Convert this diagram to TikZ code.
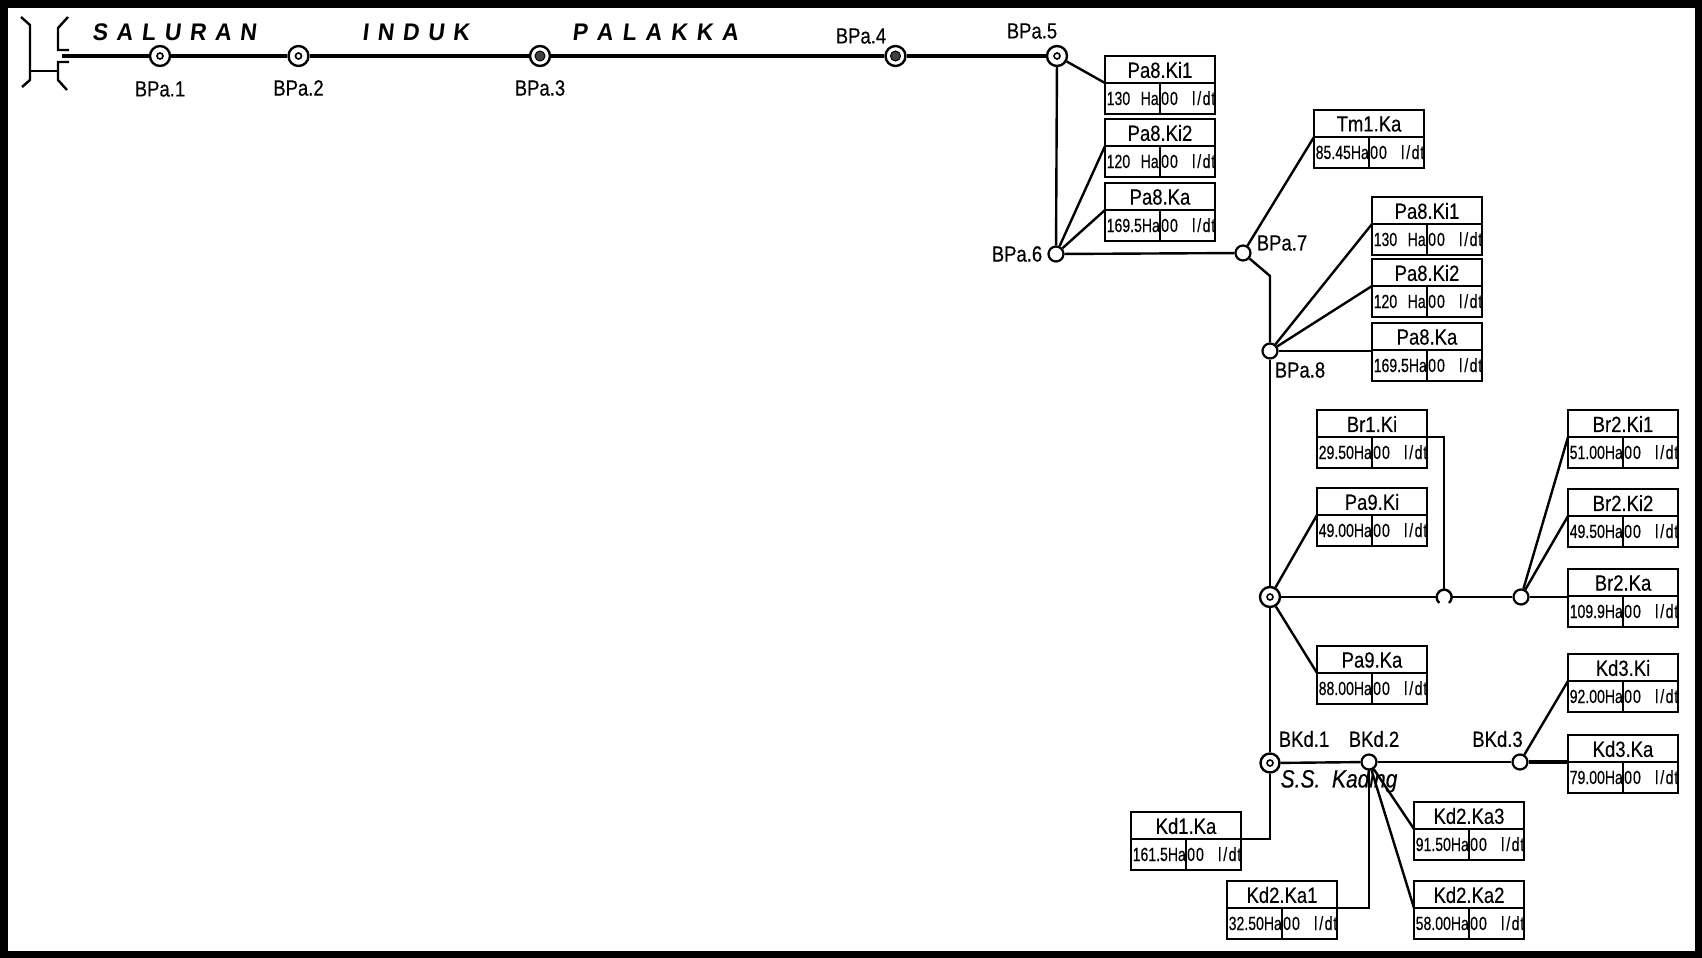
\documentclass[tikz,border=0pt]{standalone}
\usepackage{fontspec}
\setmainfont{Liberation Sans}
\newfontfamily\cadfont[FakeStretch=0.84,FakeBold=0.35]{Liberation Sans}
\newfontfamily\cellfont[FakeStretch=0.74,FakeBold=0.45]{Liberation Sans}
\newfontfamily\capsfont[FakeStretch=0.95,FakeSlant=0.12]{Liberation Sans Bold}
\tikzset{
  boxframe/.style={draw,line width=2.4pt,anchor=north west,minimum width=110pt,minimum height=58pt,inner sep=0pt,outer sep=0pt},
  cellrule/.style={line width=2.4pt},
  boxtitle/.style={inner sep=0pt,font=\cadfont\fontsize{22}{22}\selectfont},
  celltext/.style={inner sep=0pt,font=\cellfont\fontsize{19}{19}\selectfont},
  sitelabel/.style={inner sep=0pt,font=\cadfont\fontsize{22}{22}\selectfont},
  gate/.style={circle,draw,fill=white,line width=2.2pt,minimum size=15pt,inner sep=0pt},
  ringgate/.style={circle,draw,fill=white,line width=2.4pt,minimum size=#1,inner sep=0pt},
  ringgate/.default=20pt,
  hub/.style={circle,draw,fill=white,line width=1.6pt,minimum size=6pt,inner sep=0pt},
  darkhub/.style={circle,draw,fill=black!75,line width=1pt,minimum size=10pt,inner sep=0pt},
  mainline/.style={line width=3.4pt},
  branch/.style={line width=2.4pt},
  banner/.style={inner sep=0pt,font=\capsfont\fontsize{24}{24}\selectfont},
}
\newcommand{\flowbox}[5]{%
  \begin{scope}[shift={(#2,#3)}]
    \node[boxframe] (#1) at (0,0) {};
    \coordinate (#1-l) at (0,27);
    \coordinate (#1-r) at (110,27);
    \coordinate (#1-m) at (55,27);
    \coordinate (#1-b) at (55,58);
    \draw[cellrule] (#1-l) -- (#1-r) (#1-m) -- (#1-b);
    \node[boxtitle] at (55,14) {#4};
    \node[celltext,anchor=base west] at (1.5,49) {\hbox to 52pt{#5}};
    \node[celltext,anchor=base west] at (56,49) {\hbox to 54pt{0\kern1pt 0\hfil l\kern2pt/\kern1.5pt d\kern.8pt t}};
  \end{scope}}
\begin{document}
\begin{tikzpicture}[x=1pt,y=-1pt]
\useasboundingbox (0,0) rectangle (1702,958);
\fill[white] (0,0) rectangle (1702,958);
\draw[line width=8pt] (3.5,4) rectangle (1698.5,955);

% banner
\node[banner,anchor=west] at (92,32) {\hbox to 164pt{S\hfil A\hfil L\hfil U\hfil R\hfil A\hfil N}};
\node[banner,anchor=west] at (362,32) {\hbox to 107pt{I\hfil N\hfil D\hfil U\hfil K}};
\node[banner,anchor=west] at (572,32) {\hbox to 166pt{P\hfil A\hfil L\hfil A\hfil K\hfil K\hfil A}};

% intake
\coordinate (s0) at (62,56);
\coordinate (l1) at (21,17); \coordinate (l2) at (30,25); \coordinate (l3) at (30,80); \coordinate (l4) at (22,87);
\coordinate (u1) at (68,17); \coordinate (u2) at (58,28); \coordinate (u3) at (58,50); \coordinate (u4) at (69,50);
\coordinate (d1) at (69,62); \coordinate (d2) at (58,62); \coordinate (d3) at (58,80); \coordinate (d4) at (67,90);
\coordinate (st1) at (30,71); \coordinate (st2) at (58,71);
\draw[branch] (l1) -- (l2) -- (l3) -- (l4);
\draw[branch] (u1) -- (u2) -- (u3) -- (u4);
\draw[branch] (d1) -- (d2) -- (d3) -- (d4);
\draw[branch] (st1) -- (st2);

% gates
\node[ringgate] (bpa1) at (160,56) {};
\node[ringgate] (bpa2) at (298.5,56) {};
\node[ringgate] (bpa3) at (540,56) {};
\node[ringgate] (bpa4) at (895.5,56) {};
\node[ringgate] (bpa5) at (1057,56) {};
\node[gate] (bpa6) at (1056,254) {};
\node[gate] (bpa7) at (1243,253) {};
\node[gate] (bpa8) at (1270,351) {};
\node[ringgate] (pa9) at (1270,597) {};
\node[circle,minimum size=15pt,inner sep=0pt] (cross) at (1444,597) {};
\node[gate] (br2) at (1521,597) {};
\node[ringgate=19pt] (bkd1) at (1270,763) {};
\node[gate] (bkd2) at (1369,762) {};
\node[gate] (bkd3) at (1520,762) {};
\foreach \n in {bpa1,bpa2,bpa5,pa9,bkd1} \node[hub] at (\n) {};
\foreach \n in {bpa3,bpa4} \node[darkhub] at (\n) {};
\draw[branch] (cross.-50) arc[start angle=-50,end angle=230,radius=7.5pt];

% labels
\node[sitelabel] at (160,89) {BPa.1};
\node[sitelabel] at (298.5,88) {BPa.2};
\node[sitelabel] at (540,88) {BPa.3};
\node[sitelabel] at (861,36) {BPa.4};
\node[sitelabel] at (1032,31) {BPa.5};
\node[sitelabel] at (1017,254) {BPa.6};
\node[sitelabel] at (1282,243) {BPa.7};
\node[sitelabel] at (1300,370) {BPa.8};
\node[sitelabel] at (1304,739) {BKd.1};
\node[sitelabel] at (1374,739) {BKd.2};
\node[sitelabel] at (1497.5,739) {BKd.3};
\node[inner sep=0pt,font=\cadfont\itshape\fontsize{25}{25}\selectfont] at (1339,781) {S.S.\ \ Kading};

% boxes
\flowbox{a1}{1105}{56}{Pa8.Ki1}{130\hfil Ha}
\flowbox{a2}{1105}{119}{Pa8.Ki2}{120\hfil Ha}
\flowbox{a3}{1105}{183}{Pa8.Ka}{169.5Ha}
\flowbox{tm}{1314}{110}{Tm1.Ka}{85.45Ha}
\flowbox{b1}{1372}{197}{Pa8.Ki1}{130\hfil Ha}
\flowbox{b2}{1372}{259}{Pa8.Ki2}{120\hfil Ha}
\flowbox{b3}{1372}{323}{Pa8.Ka}{169.5Ha}
\flowbox{br1}{1317}{410}{Br1.Ki}{29.50Ha}
\flowbox{p9i}{1317}{488}{Pa9.Ki}{49.00Ha}
\flowbox{p9a}{1317}{646}{Pa9.Ka}{88.00Ha}
\flowbox{c1}{1568}{410}{Br2.Ki1}{51.00Ha}
\flowbox{c2}{1568}{489}{Br2.Ki2}{49.50Ha}
\flowbox{c3}{1568}{569}{Br2.Ka}{109.9Ha}
\flowbox{k3i}{1568}{654}{Kd3.Ki}{92.00Ha}
\flowbox{k3a}{1568}{735}{Kd3.Ka}{79.00Ha}
\flowbox{k23}{1414}{802}{Kd2.Ka3}{91.50Ha}
\flowbox{k22}{1414}{881}{Kd2.Ka2}{58.00Ha}
\flowbox{k21}{1227}{881}{Kd2.Ka1}{32.50Ha}
\flowbox{k1}{1131}{812}{Kd1.Ka}{161.5Ha}

% connectors
\draw[mainline] (s0) -- (bpa1);
\draw[mainline] (bpa1) -- (bpa2);
\draw[mainline] (bpa2) -- (bpa3);
\draw[mainline] (bpa3) -- (bpa4);
\draw[mainline] (bpa4) -- (bpa5);
\draw[branch] (bpa5) -- (a1-l);
\draw[branch] (bpa5) -- (bpa6);
\draw[branch] (bpa6) -- (a2-l);
\draw[branch] (bpa6) -- (a3-l);
\draw[branch] (bpa6) -- (bpa7);
\draw[branch] (bpa7) -- (tm-l);
\coordinate (bend) at (1270,276);
\draw[branch] (bpa7) -- (bend) -- (bpa8);
\draw[branch] (bpa8) -- (b1-l);
\draw[branch] (bpa8) -- (b2-l);
\draw[branch] (bpa8) -- (bpa8 -| b3.west);
\draw[branch] (bpa8) -- (pa9);
\draw[branch] (pa9) -- (p9i-l);
\draw[branch] (pa9) -- (p9a-l);
\draw[branch] (pa9) -- (bkd1);
\draw[branch] (pa9) -- (cross);
\draw[branch] (cross) -- (br2);
\draw[branch] (br1-r) -| (cross);
\draw[branch] (br2) -- (c1-l);
\draw[branch] (br2) -- (c2-l);
\draw[branch] (br2) -- (br2 -| c3.west);
\draw[branch] (bkd1) -- (bkd2);
\draw[branch] (bkd2) -- (bkd3);
\draw[branch] (bkd3) -- (k3i-l);
\draw[mainline] (bkd3) -- (bkd3 -| k3a.west);
\draw[branch] (bkd2) -- (k23-l);
\draw[branch] (bkd2) -- (k22-l);
\draw[branch] (bkd2) |- (k21-r);
\draw[branch] (bkd1) |- (k1-r);
\end{tikzpicture}
\end{document}
